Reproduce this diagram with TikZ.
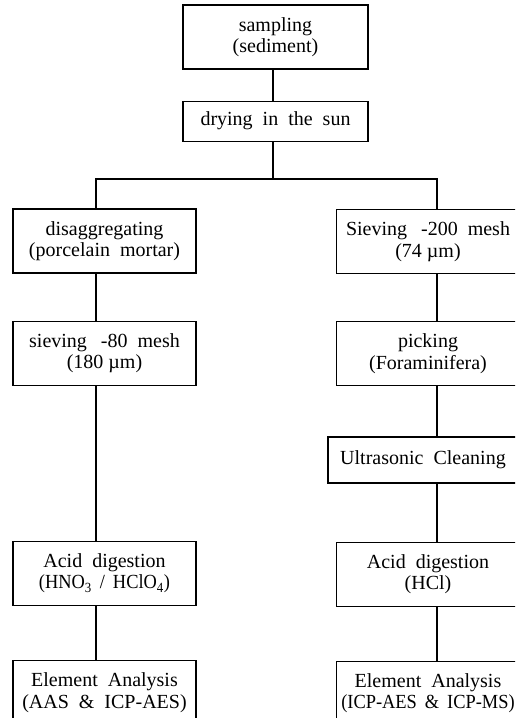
\documentclass[tikz,border=0pt]{standalone}
\usepackage{fontspec}
\setmainfont{Liberation Serif}
\usetikzlibrary{positioning}
\newcommand\boxfont{\fontsize{20}{21.5}\selectfont\spaceskip=10pt plus 2pt\relax}
\newcommand\capsfont{\addfontfeature{FakeStretch=0.92}\spaceskip=8pt plus 2pt\relax}

\begin{document}
\begin{tikzpicture}[
  x=1pt, y=1pt,
  every node/.style={font=\boxfont},
  stepbox/.style={rectangle, draw=black, line width=1.2pt, inner sep=0pt,
    minimum width=183pt, minimum height=64pt, align=center},
  link/.style={line width=1.2pt}
]
\clip (0,0) rectangle (515,-718);

% ===== top =====
\node[stepbox, minimum width=185pt] (samp) at (275.5,-37) {sampling\\(sediment)};
\node[stepbox, minimum width=185pt, minimum height=40pt, below=31pt of samp] (dry) {drying in the sun};
\coordinate (split) at (273,-179);
\coordinate (lx) at (96,0);
\coordinate (rx) at (437,0);

% ===== left branch =====
\node[stepbox] (disagg) at (104.5,-241) {disaggregating\\(porcelain mortar)};
\node[stepbox, below=47pt of disagg] (sieveL) {sieving\hspace{14pt}-80 mesh\\(180\hspace{5pt}µm)};
\node[stepbox, below=155pt of sieveL] (acidL) {Acid digestion\\{\capsfont(HNO\textsubscript{3} / HClO\textsubscript{4})}};
\node[stepbox, below=54pt of acidL] (elemL) {Element Analysis\\(AAS \& ICP-AES)};

% ===== right branch =====
\node[stepbox] (sieveR) at (428,-241.5) {Sieving\hspace{14pt}-200 mesh\\(74\hspace{5pt}µm)};
\node[stepbox, below=47pt of sieveR] (pick) {picking\\(Foraminifera)};
\node[stepbox, minimum width=190pt, minimum height=46pt, below=50pt of pick, xshift=-5pt] (ultra) {Ultrasonic Cleaning};
\node[stepbox, below=58pt of ultra, xshift=5pt] (acidR) {Acid digestion\\(HCl)};
\node[stepbox, below=54pt of acidR] (elemR) {Element Analysis\\{\capsfont(ICP-AES \& ICP-MS)}};

% ===== connectors =====
\draw[link] (samp.south -| split) -- (dry.north -| split);
\draw[link] (dry.south -| split) -- (split);
\draw[link] (disagg.north -| lx) -- (split -| lx) -- (split -| rx) -- (sieveR.north -| rx);
\draw[link] (disagg.south -| lx) -- (sieveL.north -| lx);
\draw[link] (sieveL.south -| lx) -- (acidL.north -| lx);
\draw[link] (acidL.south -| lx) -- (elemL.north -| lx);
\draw[link] (sieveR.south -| rx) -- (pick.north -| rx);
\draw[link] (pick.south -| rx) -- (ultra.north -| rx);
\draw[link] (ultra.south -| rx) -- (acidR.north -| rx);
\draw[link] (acidR.south -| rx) -- (elemR.north -| rx);
\end{tikzpicture}
\end{document}
